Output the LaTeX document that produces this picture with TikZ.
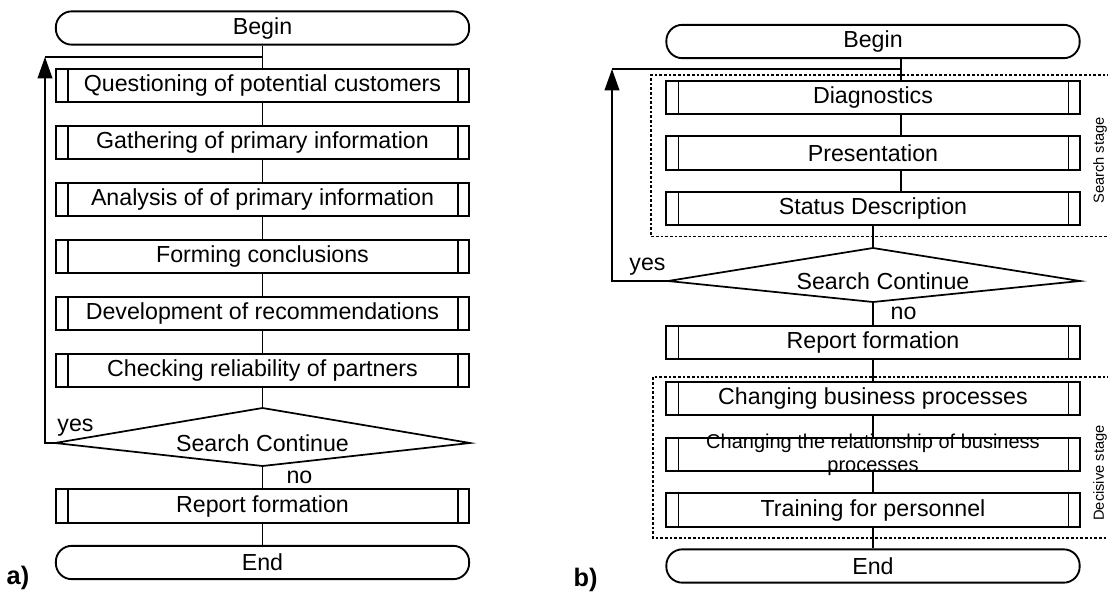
\documentclass[tikz,border=0pt]{standalone}
\usepackage{fontspec}
\setmainfont{Liberation Sans}
\usetikzlibrary{arrows.meta}

\tikzset{
  proc/.style={draw, line width=1.4pt, minimum width=310pt, minimum height=25pt, inner sep=0pt,
    font=\fontsize{17.4}{20}\selectfont,
    path picture={\draw[line width=1.1pt]
      ([xshift=9pt]path picture bounding box.south west) -- ([xshift=9pt]path picture bounding box.north west)
      ([xshift=-8.5pt]path picture bounding box.south east) -- ([xshift=-8.5pt]path picture bounding box.north east);}},
  term/.style={draw, line width=1.4pt, rounded corners=12pt, minimum width=310pt, minimum height=25pt,
    inner sep=0pt, font=\fontsize{17.4}{20}\selectfont},
  txt/.style={inner sep=0pt, font=\fontsize{17.4}{20}\selectfont},
  link/.style={line width=1.3pt},
  loopback/.style={line width=1.3pt, -{Triangle[length=16pt,width=11pt]}},
  stagebox/.style={line width=0.8pt, dash pattern=on 2pt off 1.5pt},
  stagelbl/.style={inner sep=0pt, rotate=90, font=\fontsize{11}{13}\selectfont}
}

\begin{document}
\begin{tikzpicture}[x=0.75pt,y=-0.75pt]
  \useasboundingbox (0,0) rectangle (1108,597);
  % a)
  \node[term] (beginA) at (262.5,28) {Begin};
  \node[proc] (qst) at (262.5,85.5) {Questioning of potential customers};
  \node[proc] (gth) at (262.5,142.5) {Gathering of primary information};
  \node[proc] (anl) at (262.5,199.5) {Analysis of of primary information};
  \node[proc] (frm) at (262.5,256.5) {Forming conclusions};
  \node[proc] (dev) at (262.5,313.5) {Development of recommendations};
  \node[proc] (chk) at (262.5,370.5) {Checking reliability of partners};
  \node[txt] (decA) at (262.5,443) {Search Continue};
  \node[proc] (repA) at (262.5,506) {Report formation};
  \node[term] (endA) at (262.5,562.5) {End};
  \coordinate (decAn) at (262.5,408);
  \coordinate (decAw) at (55,443);
  \coordinate (decAs) at (262.5,466);
  \coordinate (decAe) at (470,443);
  \coordinate (loopA) at (45,57);
  \draw[link] (decAn) -- (decAw) -- (decAs) -- (decAe) -- cycle;
  \draw[link] (beginA) -- (qst) -- (gth) -- (anl) -- (frm) -- (dev) -- (chk) -- (decAn);
  \draw[link] (decAs) -- (repA) -- (endA);
  \draw[loopback] (decAw) -| (loopA);
  \draw[link] (loopA) -- (loopA -| beginA);
  \node[txt] (yesA) at (75.5,428) {yes};
  \node[txt] (noA) at (299.5,477) {no};
  \node[txt, font=\fontsize{19}{22}\selectfont\bfseries] (capA) at (18,578) {a)};

  % b)
  \node[term] (beginB) at (873,41.5) {Begin};
  \node[proc] (diag) at (873,97.5) {Diagnostics};
  \node[proc] (pres) at (873,153) {Presentation};
  \node[proc] (stat) at (873,208.5) {Status Description};
  \node[txt] (decB) at (883,281) {Search Continue};
  \node[proc] (repB) at (873,342.5) {Report formation};
  \node[proc] (chg) at (873,398.5) {Changing business processes};
  \node[proc, label={[txt, font=\fontsize{15}{17.5}\selectfont, align=center]center:Changing the relationship of business\\processes}] (rel) at (873,454.5) {};
  \node[proc] (trn) at (873,510) {Training for personnel};
  \node[term] (endB) at (873,566) {End};
  \coordinate (decBn) at (873,248);
  \coordinate (decBw) at (668,281);
  \coordinate (decBs) at (873,302);
  \coordinate (decBe) at (1080,281);
  \coordinate (loopB) at (612,69);
  \coordinate (topB) at (901,69);
  \draw[link] (decBn) -- (decBw) -- (decBs) -- (decBe) -- cycle;
  \draw[link] ([xshift=21pt]beginB.south) -- ([xshift=21pt]diag.north);
  \draw[link] ([xshift=21pt]diag.south) -- ([xshift=21pt]pres.north);
  \draw[link] ([xshift=21pt]pres.south) -- ([xshift=21pt]stat.north);
  \draw[link] (stat) -- (decBn);
  \draw[link] (decBs) -- (repB) -- (chg) -- (rel) -- (trn) -- (endB);
  \draw[loopback] (decBw) -| (loopB);
  \draw[link] (loopB) -- (topB);
  \node[txt] (yesB) at (647.5,267) {yes};
  \node[txt] (noB) at (903.5,313) {no};
  \node[txt, font=\fontsize{19}{22}\selectfont\bfseries] (capB) at (585.5,580) {b)};

  % stages
  \draw[stagebox] (1110,75) -| (651,236.5) -- (1110,236.5);
  \draw[stagebox] (1110,377) -| (653,538) -- (1110,538);
  \node[stagelbl] (srchlbl) at (1100,160.5) {Search stage};
  \node[stagelbl] (decilbl) at (1100,473) {Decisive stage};
\end{tikzpicture}
\end{document}
